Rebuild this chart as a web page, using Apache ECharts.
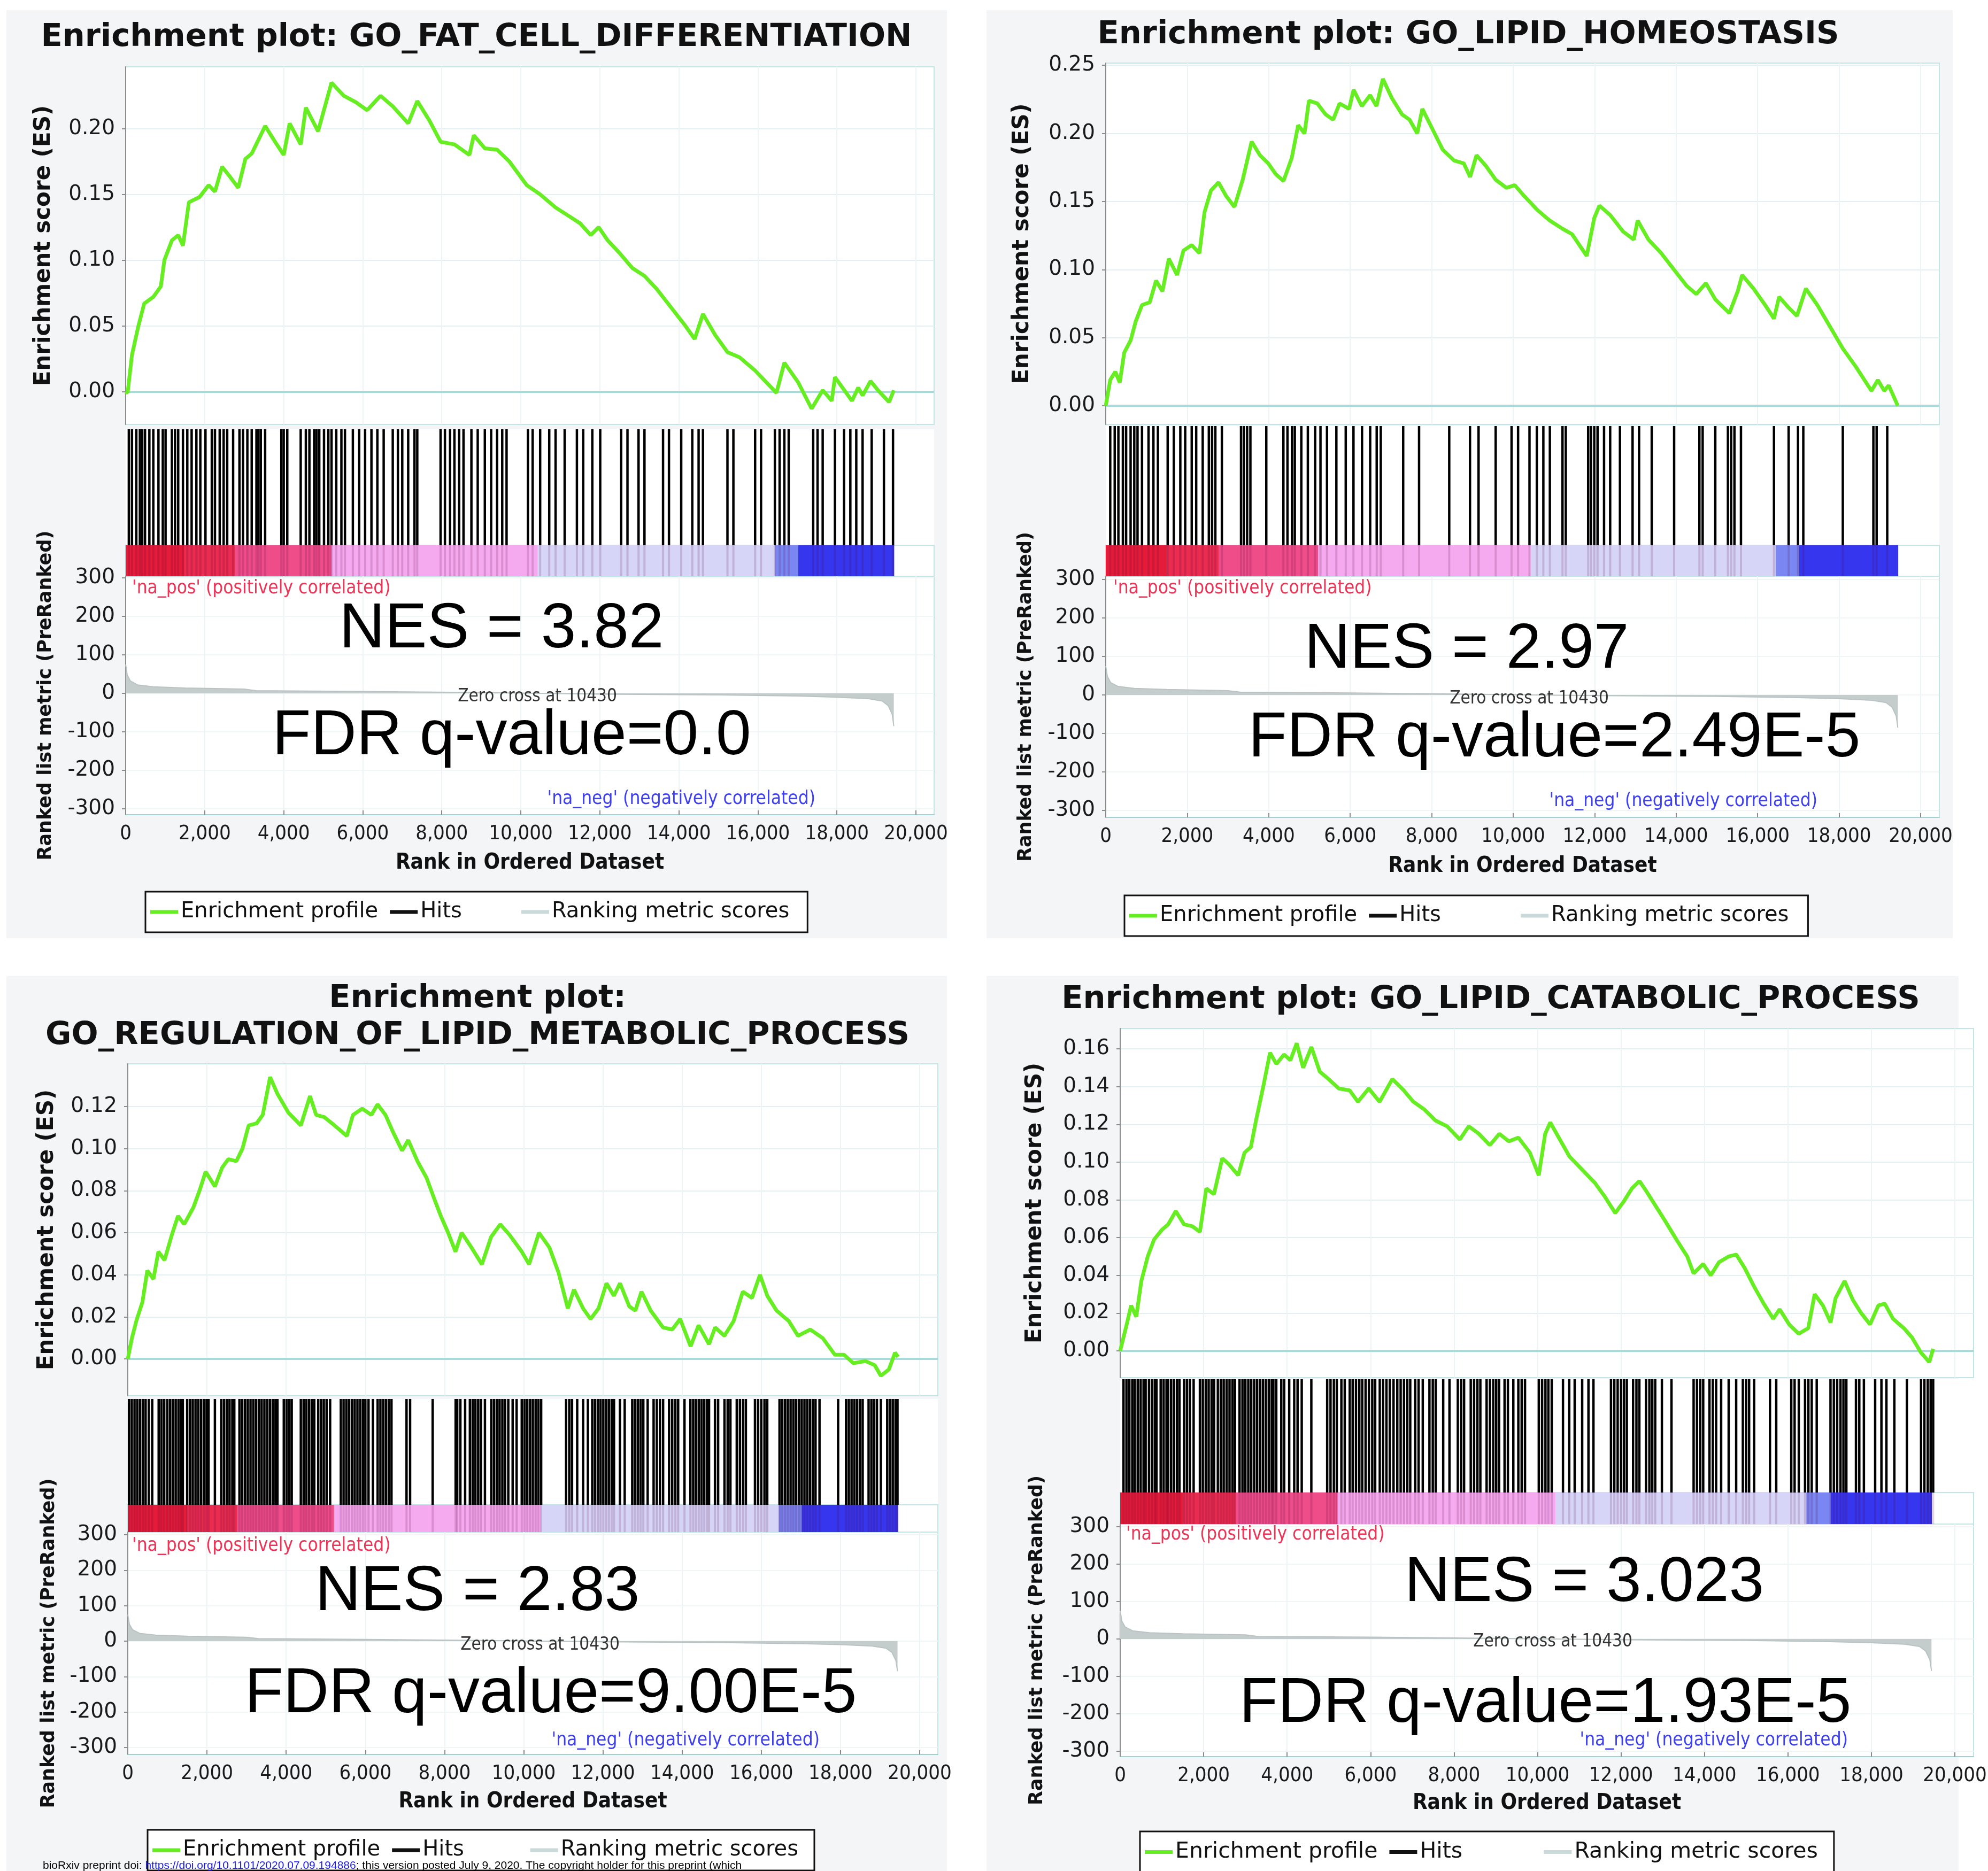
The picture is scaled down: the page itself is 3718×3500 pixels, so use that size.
<!DOCTYPE html>
<html><head><meta charset="utf-8">
<script src="https://cdn.jsdelivr.net/npm/echarts@6/dist/echarts.min.js"></script>
<style>html,body{margin:0;padding:0;background:#fff}#c{width:3718px;height:3500px}</style>
</head><body><div id="c"></div>
<script>
// ---------------- DATA ----------------
const titles = [
  'Enrichment plot: GO_FAT_CELL_DIFFERENTIATION',
  'Enrichment plot: GO_LIPID_HOMEOSTASIS',
  'Enrichment plot:\nGO_REGULATION_OF_LIPID_METABOLIC_PROCESS',
  'Enrichment plot: GO_LIPID_CATABOLIC_PROCESS'
];
const nesLabels = ['NES = 3.82', 'NES = 2.97', 'NES = 2.83', 'NES = 3.023'];
const fdrLabels = ['FDR q-value=0.0', 'FDR q-value=2.49E-5', 'FDR q-value=9.00E-5', 'FDR q-value=1.93E-5'];
const posLabel = "'na_pos' (positively correlated)";
const negLabel = "'na_neg' (negatively correlated)";
const zeroCrossLabel = 'Zero cross at 10430';
const footerPre = 'bioRxiv preprint doi: ';
const footerLink = 'https://doi.org/10.1101/2020.07.09.194886';
const footerPost = '; this version posted July 9, 2020. The copyright holder for this preprint (which';

const xTicks = [0, 2000, 4000, 6000, 8000, 10000, 12000, 14000, 16000, 18000, 20000];
const esTicksFat = [0, 0.05, 0.10, 0.15, 0.20];
const esTicksHomeo = [0, 0.05, 0.10, 0.15, 0.20, 0.25];
const esTicksRegLipid = [0, 0.02, 0.04, 0.06, 0.08, 0.10, 0.12];
const esTicksCatab = [0, 0.02, 0.04, 0.06, 0.08, 0.10, 0.12, 0.14, 0.16];
const metricTicks = [-300, -200, -100, 0, 100, 200, 300];

const esFat = [[0,0],[50,-0.001],[160,0.028],[315,0.049],[470,0.067],[700,0.072],[890,0.080],[980,0.100],[1170,0.115],[1330,0.119],[1450,0.111],[1600,0.144],[1870,0.148],[2100,0.157],[2260,0.152],[2440,0.171],[2650,0.163],[2850,0.155],[3030,0.177],[3190,0.181],[3530,0.202],[3780,0.190],[4000,0.180],[4150,0.204],[4430,0.188],[4560,0.216],[4870,0.198],[5210,0.235],[5520,0.225],[5830,0.220],[6110,0.214],[6450,0.225],[6760,0.217],[7150,0.204],[7380,0.221],[7690,0.206],[7970,0.190],[8320,0.188],[8700,0.180],[8810,0.195],[9090,0.185],[9400,0.184],[9710,0.175],[10150,0.157],[10490,0.150],[10880,0.140],[11190,0.134],[11500,0.128],[11770,0.119],[11970,0.125],[12200,0.115],[12510,0.105],[12820,0.094],[13130,0.088],[13440,0.078],[13830,0.063],[14140,0.051],[14400,0.040],[14610,0.059],[14920,0.043],[15230,0.030],[15540,0.026],[15930,0.016],[16470,-0.001],[16670,0.022],[17020,0.007],[17360,-0.013],[17640,0.001],[17870,-0.007],[17950,0.011],[18380,-0.007],[18540,0.003],[18650,-0.003],[18850,0.008],[19040,0.001],[19320,-0.008],[19440,0.001]];

const esHomeo = [[0,0],[110,0.019],[235,0.025],[344,0.017],[453,0.039],[610,0.048],[735,0.062],[891,0.074],[1079,0.076],[1235,0.092],[1391,0.084],[1548,0.108],[1751,0.096],[1907,0.114],[2110,0.118],[2298,0.112],[2423,0.142],[2580,0.158],[2767,0.164],[2955,0.154],[3158,0.146],[3361,0.166],[3580,0.194],[3783,0.184],[3987,0.178],[4174,0.170],[4362,0.165],[4565,0.182],[4722,0.206],[4878,0.200],[4987,0.224],[5190,0.222],[5394,0.214],[5581,0.210],[5738,0.222],[5972,0.218],[6082,0.232],[6285,0.220],[6488,0.228],[6645,0.220],[6801,0.240],[7020,0.226],[7270,0.214],[7457,0.210],[7645,0.200],[7770,0.218],[8004,0.204],[8270,0.188],[8552,0.180],[8786,0.178],[8943,0.168],[9099,0.184],[9334,0.176],[9568,0.166],[9834,0.160],[10037,0.162],[10271,0.154],[10584,0.144],[10897,0.136],[11210,0.130],[11444,0.126],[11804,0.110],[11991,0.138],[12116,0.147],[12382,0.140],[12695,0.128],[12960,0.122],[13054,0.136],[13320,0.122],[13633,0.112],[13946,0.100],[14259,0.088],[14493,0.082],[14728,0.090],[14962,0.078],[15306,0.068],[15509,0.084],[15619,0.096],[15900,0.086],[16182,0.074],[16401,0.064],[16526,0.080],[16761,0.072],[16964,0.066],[17183,0.086],[17464,0.074],[17777,0.058],[18090,0.042],[18402,0.029],[18793,0.011],[18950,0.019],[19106,0.011],[19216,0.015],[19440,0.000]];

const esRegLipid = [[0,0],[105,0.010],[214,0.018],[369,0.027],[493,0.042],[648,0.038],[772,0.051],[927,0.047],[1113,0.059],[1268,0.068],[1423,0.064],[1656,0.072],[1811,0.080],[1966,0.089],[2199,0.082],[2384,0.091],[2539,0.095],[2741,0.094],[2896,0.100],[3051,0.111],[3253,0.112],[3408,0.116],[3594,0.134],[3780,0.126],[4059,0.117],[4369,0.111],[4602,0.125],[4757,0.116],[4958,0.115],[5222,0.111],[5532,0.106],[5687,0.116],[5920,0.119],[6152,0.116],[6307,0.121],[6508,0.116],[6695,0.108],[6927,0.099],[7083,0.104],[7315,0.094],[7548,0.086],[7703,0.078],[7904,0.068],[8090,0.060],[8276,0.051],[8431,0.060],[8679,0.053],[8943,0.045],[9175,0.058],[9408,0.064],[9641,0.059],[9950,0.051],[10136,0.045],[10384,0.060],[10647,0.053],[10880,0.041],[11113,0.024],[11268,0.033],[11500,0.024],[11687,0.019],[11888,0.024],[12090,0.036],[12276,0.030],[12431,0.036],[12664,0.025],[12819,0.023],[12974,0.032],[13206,0.023],[13516,0.015],[13749,0.014],[13950,0.019],[14214,0.006],[14415,0.016],[14679,0.007],[14834,0.015],[15067,0.011],[15300,0.018],[15532,0.032],[15765,0.029],[15966,0.040],[16152,0.030],[16385,0.023],[16695,0.018],[16927,0.011],[17237,0.014],[17547,0.010],[17858,0.002],[18090,0.002],[18323,-0.002],[18633,-0.001],[18865,-0.003],[19020,-0.008],[19222,-0.005],[19377,0.003],[19455,0.001]];

const esCatab = [[0,0],[156,0.014],[262,0.024],[385,0.018],[507,0.037],[660,0.050],[812,0.059],[995,0.064],[1148,0.067],[1331,0.074],[1529,0.067],[1728,0.066],[1911,0.063],[2063,0.086],[2247,0.083],[2445,0.102],[2598,0.099],[2827,0.093],[2979,0.105],[3132,0.108],[3254,0.122],[3437,0.141],[3590,0.158],[3742,0.152],[3925,0.157],[4078,0.154],[4230,0.163],[4383,0.150],[4582,0.161],[4780,0.148],[4994,0.144],[5238,0.139],[5498,0.138],[5696,0.132],[5956,0.139],[6215,0.132],[6520,0.144],[6795,0.138],[7024,0.132],[7283,0.128],[7558,0.122],[7833,0.119],[8138,0.112],[8352,0.119],[8596,0.115],[8856,0.109],[9085,0.115],[9313,0.111],[9542,0.113],[9817,0.105],[10030,0.093],[10183,0.115],[10305,0.121],[10534,0.112],[10763,0.103],[11069,0.096],[11374,0.089],[11603,0.082],[11862,0.073],[12061,0.079],[12259,0.086],[12442,0.090],[12595,0.085],[12824,0.077],[13053,0.069],[13327,0.059],[13587,0.050],[13740,0.041],[13968,0.046],[14151,0.040],[14350,0.047],[14579,0.050],[14762,0.051],[14961,0.044],[15190,0.034],[15419,0.025],[15648,0.017],[15800,0.022],[16029,0.014],[16258,0.009],[16487,0.012],[16640,0.030],[16838,0.024],[17021,0.015],[17143,0.028],[17357,0.037],[17555,0.027],[17754,0.020],[17968,0.014],[18166,0.024],[18319,0.025],[18517,0.017],[18777,0.012],[18975,0.007],[19189,-0.001],[19387,-0.006],[19480,0.001]];

const hitsFat = [80,160,270,360,420,490,600,700,830,940,1010,1170,1250,1330,1450,1560,1670,1790,1890,2020,2180,2260,2380,2480,2570,2720,2880,2970,3080,3190,3310,3360,3420,3530,3940,4000,4090,4430,4560,4650,4770,4830,4900,5020,5130,5210,5330,5460,5550,5750,5910,6060,6220,6370,6530,6760,6890,7000,7150,7310,7380,7970,8080,8210,8320,8440,8550,8750,8910,9090,9250,9400,9530,9640,10180,10300,10490,10720,10880,11110,11420,11580,11810,12010,12540,12700,12980,13130,13600,13750,14060,14340,14500,14610,15230,15380,15930,16080,16430,16550,16670,16780,17400,17510,17640,17950,18180,18340,18490,18650,18880,19190,19420];

const hitsHomeo = [110,220,310,420,500,610,700,780,890,1050,1170,1280,1520,1670,1830,1950,2110,2220,2380,2530,2610,2690,2850,3320,3390,3470,3550,3940,4360,4460,4570,4640,4800,4960,5140,5270,5430,5660,5890,6080,6290,6490,6650,6750,7300,7690,8430,8940,9150,9570,9960,10120,10400,10580,10740,10900,11210,11290,11840,11910,11990,12070,12230,12380,12620,12930,13090,13400,13950,14570,14650,14960,15270,15350,15430,15590,16400,16760,16990,17120,18090,18840,18920,19180];

const hitsRegLipid = [30,100,170,240,310,380,450,530,617,780,850,920,1000,1070,1140,1210,1280,1350,1390,1500,1570,1640,1710,1780,1850,1920,1990,2040,2200,2360,2430,2500,2570,2640,2690,2820,2890,2960,3030,3100,3170,3240,3310,3380,3450,3520,3590,3660,3730,3780,3940,4010,4080,4140,4370,4440,4510,4580,4650,4710,4810,4880,4950,5020,5110,5380,5450,5520,5590,5660,5730,5800,5870,5940,6000,6080,6190,6310,6380,6450,6520,6590,6660,7040,7130,7700,8280,8320,8400,8520,8640,8710,8780,8850,8920,9020,9180,9250,9320,9390,9460,9530,9610,9720,9820,9950,10020,10090,10160,10230,10300,10370,10440,11070,11150,11220,11350,11500,11620,11730,11800,11870,11940,12010,12080,12150,12220,12280,12430,12550,12740,12810,12880,12950,13020,13130,13280,13360,13440,13520,13670,13750,13830,13900,14060,14210,14280,14350,14420,14490,14560,14630,14680,14830,14910,15070,15150,15220,15380,15460,15540,15610,15840,15920,16000,16080,16150,16460,16530,16600,16670,16740,16810,16880,16950,17020,17090,17160,17230,17300,17370,17470,17940,18140,18210,18280,18350,18420,18490,18560,18710,18780,18850,18920,19020,19180,19250,19320,19390,19440];

const hitsCatab = [80,150,220,290,350,420,490,560,610,690,760,830,870,970,1040,1110,1150,1220,1290,1360,1420,1530,1600,1670,1760,1910,1980,2050,2120,2190,2250,2340,2410,2480,2550,2620,2690,2750,2860,2930,3000,3070,3140,3210,3280,3350,3420,3490,3560,3630,3670,3740,3860,3930,4050,4170,4250,4350,4580,4960,5040,5120,5190,5300,5380,5500,5570,5650,5730,5800,5880,5960,6040,6110,6220,6300,6380,6460,6550,6640,6720,6800,6880,6950,7070,7150,7250,7410,7490,7560,7740,7890,8090,8170,8240,8400,8480,8560,8630,8780,8860,8940,9010,9080,9210,9290,9420,9540,9620,9700,10030,10110,10190,10260,10340,10610,10760,10890,11070,11220,11340,11760,11840,11920,12000,12070,12140,12290,12370,12440,12600,12680,12750,12820,12980,13210,13740,13820,13900,13970,14120,14200,14280,14400,14580,14760,14920,15000,15070,15190,15570,15720,16080,16160,16260,16410,16490,16570,16690,17020,17100,17180,17260,17330,17400,17630,17710,17820,18090,18240,18360,18550,18850,19190,19270,19350,19420,19480];

const metricRanks  = [0, 40, 120, 300, 700, 1500, 3000, 3300, 6000, 9000, 10430, 12000, 15000, 17000, 18000, 18800, 19150, 19300, 19400, 19440];
const metricValues = [75, 48, 32, 22, 17, 14, 11, 7, 5, 2, 0, -2, -4, -7, -10, -14, -20, -32, -55, -85];

const colorBarBreaks = [0, 1500, 2770, 5210, 10430, 16440, 17020, 19450];
const colorBarColors = ['#e41c3a', '#e92c50', '#ee4d8a', '#f5aaf0', '#d6d5f8', '#7a86f2', '#3636ef'];

const legendNames = ['Enrichment profile', 'Hits', 'Ranking metric scores'];

// ---------------- LAYOUT ----------------
const panels = [
  {es: esFat, hits: hitsFat, esTicks: esTicksFat,
   bg: [12, 19, 1759, 1736], left: 235, width: 1512, esBox: [125, 669], hitsBox: [803, 217], barBox: [1020, 58], metBox: [1078, 446],
   esRange: [-0.025, 0.247], metRange: [-315, 304], xMax: 20460, esGap: 132, metGap: 132, xGap: 71,
   title: [891, 71], nes: [938, 1178], fdr: [957, 1378], pos: [247, 1101], zero: [1005, 1303], neg: [1525, 1495], legend: [272, 1668], legendFont: 40, legendPadR: 34, hitsGap: 7},
  {es: esHomeo, hits: hitsHomeo, esTicks: esTicksHomeo,
   bg: [1845, 19, 1807, 1736], left: 2068, width: 1559, esBox: [118, 676], hitsBox: [797, 223], barBox: [1020, 58], metBox: [1078, 451],
   esRange: [-0.0137, 0.2516], metRange: [-318, 308], xMax: 20459, esGap: 135, metGap: 132, xGap: 72,
   title: [2746, 66], nes: [2743, 1216], fdr: [2907, 1382], pos: [2082, 1101], zero: [2860, 1307], neg: [3399, 1499], legend: [2103, 1675], legendFont: 40, legendPadR: 36, hitsGap: 10},
  {es: esRegLipid, hits: hitsRegLipid, esTicks: esTicksRegLipid,
   bg: [12, 1826, 1759, 1674], left: 239, width: 1515, esBox: [1990, 621], hitsBox: [2617, 198], barBox: [2815, 51], metBox: [2866, 416],
   esRange: [-0.0175, 0.1403], metRange: [-319.6, 307.5], xMax: 20459, esGap: 130, metGap: 130, xGap: 69,
   title: [893, 1903], nes: [893, 2979], fdr: [1030, 3170], pos: [247, 2892], zero: [1010, 3077], neg: [1533, 3256], legend: [276, 3423], legendFont: 40, legendPadR: 30, hitsGap: 8},
  {es: esCatab, hits: hitsCatab, esTicks: esTicksCatab,
   bg: [1845, 1826, 1818, 1674], left: 2095, width: 1596, esBox: [1924, 653], hitsBox: [2580, 212], barBox: [2792, 59], metBox: [2851, 435],
   esRange: [-0.0142, 0.1708], metRange: [-314, 307], xMax: 20448, esGap: 138, metGap: 138, xGap: 68,
   title: [2788, 1871], nes: [2963, 2962], fdr: [2890, 3188], pos: [2106, 2871], zero: [2904, 3071], neg: [3456, 3256], legend: [2132, 3426], legendFont: 41, legendPadR: 30, hitsGap: 10}
];

const GREEN = '#66ee22';
const BORDER = '#c2e5e5';
const COND = '"DejaVu Sans Condensed", "DejaVu Sans"';
const fmtRank = v => v === 0 ? '0' : v.toLocaleString('en-US');

const grid = [], xAxis = [], yAxis = [], series = [], graphic = [], legend = [];

panels.forEach((P, i) => {
  const base = i * 4;
  graphic.push({type: 'rect', z: -10, shape: {x: P.bg[0], y: P.bg[1], width: P.bg[2], height: P.bg[3]}, style: {fill: '#f4f5f7'}});
  [P.esBox, P.hitsBox, P.barBox, P.metBox].forEach((b, k) => {
    grid.push({left: P.left, top: b[0], width: P.width, height: b[1], show: true, backgroundColor: '#fff',
      borderColor: BORDER, borderWidth: k === 1 ? 0 : 2, containLabel: false, outerBoundsMode: 'none'});
  });
  for (let k = 0; k < 4; k++) {
    const isMet = k === 3;
    xAxis.push({
      gridIndex: base + k, type: 'value', min: 0, max: P.xMax,
      axisLine: {show: isMet, onZero: false, lineStyle: {color: '#9fd3d3', width: 2}},
      axisTick: {show: isMet, inside: true, length: 8, customValues: xTicks, lineStyle: {color: '#8a8a8a', width: 2}},
      axisLabel: {show: isMet, customValues: xTicks, formatter: fmtRank, fontFamily: COND, fontSize: 38, color: '#1a1a1a', margin: 17},
      splitLine: {show: k === 0 || k === 3, lineStyle: {color: '#eef4f5', width: 2}},
      name: isMet ? 'Rank in Ordered Dataset' : '', nameLocation: 'middle', nameGap: P.xGap,
      nameTextStyle: {fontFamily: COND, fontWeight: 'bold', fontSize: 40, color: '#111'}
    });
  }
  yAxis.push({
    gridIndex: base, type: 'value', min: P.esRange[0], max: P.esRange[1],
    axisLine: {show: true, onZero: false, lineStyle: {color: '#8c8c8c', width: 2}},
    axisTick: {show: true, length: 7, customValues: P.esTicks, lineStyle: {color: '#8c8c8c', width: 2}},
    axisLabel: {customValues: P.esTicks, formatter: v => v.toFixed(2), fontFamily: 'DejaVu Sans', fontSize: 39, color: '#1a1a1a', margin: 20},
    splitLine: {show: true, lineStyle: {color: '#e3f0f2', width: 2}},
    name: 'Enrichment score (ES)', nameLocation: 'middle', nameGap: P.esGap,
    nameTextStyle: {fontFamily: 'DejaVu Sans', fontWeight: 'bold', fontSize: 42, color: '#111'}
  });
  yAxis.push({gridIndex: base + 1, type: 'value', min: 0, max: 1, show: false});
  yAxis.push({gridIndex: base + 2, type: 'value', min: 0, max: 1, show: false});
  yAxis.push({
    gridIndex: base + 3, type: 'value', min: P.metRange[0], max: P.metRange[1],
    axisLine: {show: true, onZero: false, lineStyle: {color: '#8c8c8c', width: 2}},
    axisTick: {show: true, length: 7, customValues: metricTicks, lineStyle: {color: '#8c8c8c', width: 2}},
    axisLabel: {customValues: metricTicks, fontFamily: 'DejaVu Sans', fontSize: 39, color: '#1a1a1a', margin: 20},
    splitLine: {show: true, lineStyle: {color: '#f0f5f6', width: 2}},
    name: 'Ranked list metric (PreRanked)', nameLocation: 'middle', nameGap: P.metGap,
    nameTextStyle: {fontFamily: 'DejaVu Sans', fontWeight: 'bold', fontSize: 35, color: '#111'}
  });

  series.push({
    name: legendNames[0], type: 'line', xAxisIndex: base, yAxisIndex: base,
    data: P.es, symbol: 'none', showSymbol: false, color: GREEN,
    itemStyle: {color: GREEN}, lineStyle: {color: GREEN, width: 7}, z: 3, animation: false,
    markLine: {silent: true, z: 1, symbol: ['none', 'none'], label: {show: false},
      lineStyle: {color: '#a8dada', width: 4, type: 'solid'}, data: [{yAxis: 0}]}
  });
  series.push({
    name: legendNames[1], type: 'custom', xAxisIndex: base + 1, yAxisIndex: base + 1,
    data: P.hits.map(r => [r]), encode: {x: 0}, color: '#111', itemStyle: {color: '#111'}, animation: false,
    renderItem: (params, api) => {
      const a = api.coord([api.value(0), 0]);
      const b = api.coord([api.value(0), 1]);
      return {type: 'line', shape: {x1: a[0], y1: a[1], x2: b[0], y2: b[1]}, style: {stroke: '#000', lineWidth: 4.5}};
    }
  });
  series.push({
    name: 'colorbar' + i, type: 'custom', xAxisIndex: base + 2, yAxisIndex: base + 2, silent: true, animation: false,
    data: colorBarColors.map((c, j) => [colorBarBreaks[j], colorBarBreaks[j + 1], j]), encode: {x: [0, 1]},
    renderItem: (params, api) => {
      const a = api.coord([api.value(0), 1]);
      const b = api.coord([api.value(1), 0]);
      return {type: 'rect', shape: {x: a[0], y: a[1], width: b[0] - a[0], height: b[1] - a[1]},
        style: {fill: colorBarColors[api.value(2)]}};
    }
  });
  series.push({
    name: 'barhits' + i, type: 'custom', xAxisIndex: base + 2, yAxisIndex: base + 2, silent: true, animation: false, z: 3,
    data: P.hits.map(r => [r]), encode: {x: 0},
    renderItem: (params, api) => {
      const a = api.coord([api.value(0), 0]);
      const b = api.coord([api.value(0), 1]);
      return {type: 'line', shape: {x1: a[0], y1: a[1], x2: b[0], y2: b[1]}, style: {stroke: 'rgba(80,0,50,0.16)', lineWidth: 4}};
    }
  });
  series.push({
    name: legendNames[2], type: 'line', xAxisIndex: base + 3, yAxisIndex: base + 3,
    data: metricRanks.map((r, j) => [r, metricValues[j]]), symbol: 'none', showSymbol: false, animation: false,
    color: '#cadada', itemStyle: {color: '#cadada'},
    lineStyle: {color: '#b9c3c3', width: 2}, areaStyle: {color: '#c5cccc', opacity: 1, origin: 0}
  });

  const pad = '\u00a0'.repeat(P.hitsGap);
  legend.push({
    left: P.legend[0], top: P.legend[1], orient: 'horizontal', selectedMode: false,
    data: legendNames,
    icon: 'rect', itemWidth: 52, itemHeight: 7, itemGap: 22,
    padding: [18, P.legendPadR, 18, 9], borderColor: '#111', borderWidth: 3, backgroundColor: '#fff',
    formatter: n => n === 'Hits' ? n + pad : n,
    textStyle: {fontFamily: 'DejaVu Sans', fontSize: P.legendFont, color: '#111'}
  });

  graphic.push({type: 'text', z: 100, x: P.title[0], y: P.title[1], style: {text: titles[i], align: 'center', verticalAlign: 'middle',
    fontFamily: 'DejaVu Sans', fontWeight: 'bold', fontSize: 59, lineHeight: 69, fill: '#111'}});
  graphic.push({type: 'text', z: 100, x: P.nes[0], y: P.nes[1], style: {text: nesLabels[i], align: 'center', verticalAlign: 'middle',
    fontFamily: '"Liberation Sans", Arial', fontSize: 118, fill: '#000'}});
  graphic.push({type: 'text', z: 100, x: P.fdr[0], y: P.fdr[1], style: {text: fdrLabels[i], align: 'center', verticalAlign: 'middle',
    fontFamily: '"Liberation Sans", Arial', fontSize: 118, fill: '#000'}});
  graphic.push({type: 'text', z: 100, x: P.pos[0], y: P.pos[1], style: {text: posLabel, align: 'left', verticalAlign: 'middle',
    fontFamily: COND, fontSize: 35, fill: '#ec3556'}});
  graphic.push({type: 'text', z: 100, x: P.zero[0], y: P.zero[1], style: {text: zeroCrossLabel, align: 'center', verticalAlign: 'middle',
    fontFamily: COND, fontSize: 33, fill: '#333'}});
  graphic.push({type: 'text', z: 100, x: P.neg[0], y: P.neg[1], style: {text: negLabel, align: 'right', verticalAlign: 'middle',
    fontFamily: COND, fontSize: 35, fill: '#3d3ff0'}});
});

graphic.push({type: 'text', z: 120, x: 80, y: 3490, style: {
  text: '{a|' + footerPre + '}{b|' + footerLink + '}{a|' + footerPost + '}', verticalAlign: 'middle',
  rich: {a: {fontFamily: '"Liberation Sans Narrow", "Liberation Sans"', fontSize: 21, fill: '#000'},
         b: {fontFamily: '"Liberation Sans Narrow", "Liberation Sans"', fontSize: 21, fill: '#1a1aee'}}}});

const chart = echarts.init(document.getElementById('c'), null, {renderer: 'canvas'});
chart.setOption({
  animation: false,
  backgroundColor: '#ffffff',
  textStyle: {fontFamily: 'DejaVu Sans'},
  grid, xAxis, yAxis, series, legend, graphic
});
</script></body></html>
